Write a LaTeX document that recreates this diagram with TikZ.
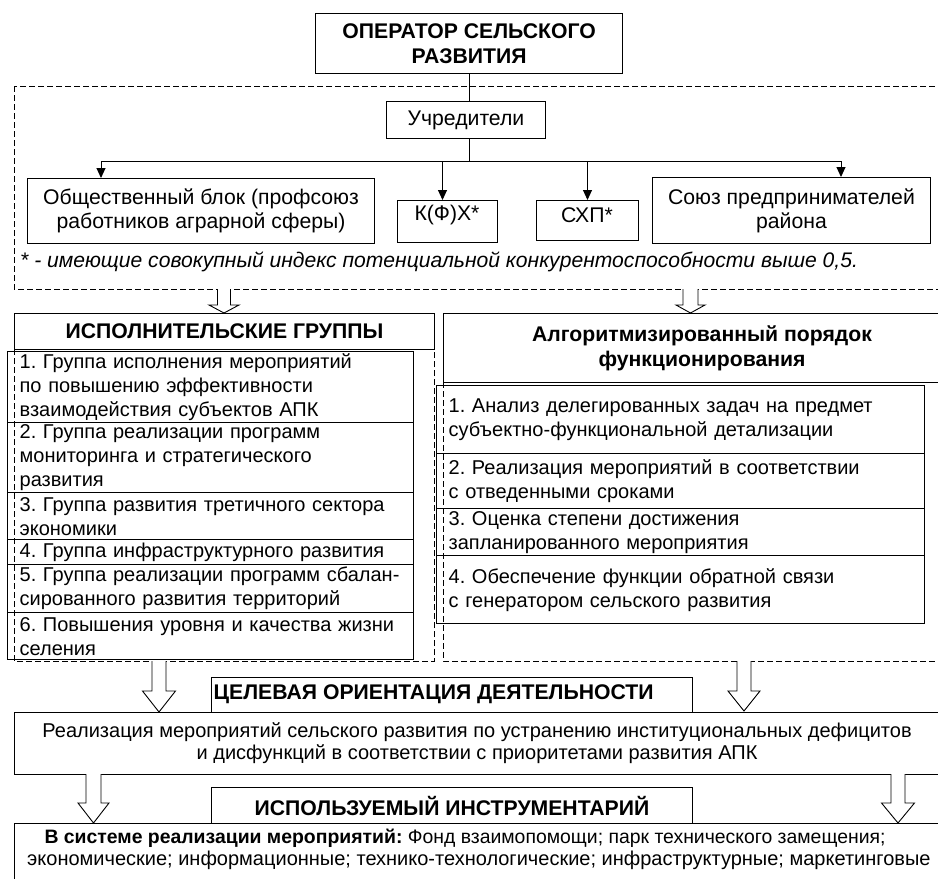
\documentclass[tikz,border=0pt]{standalone}
\usepackage{fontspec}
\setmainfont{Liberation Sans}
\usetikzlibrary{arrows.meta}
\frenchspacing
\tikzset{
  box/.style={draw, line width=1pt, inner sep=0pt, anchor=north west},
  hdr/.style={font=\bfseries\fontsize{21.2}{25}\selectfont, align=center},
  body/.style={font=\fontsize{21.2}{24}\selectfont},
  rowbox/.style={draw, line width=1.3pt, anchor=north west, inner ysep=0pt, inner xsep=12pt, align=left, font=\fontsize{20}{24}\selectfont},
  dashbox/.style={draw, line width=0.8pt, dash pattern=on 6pt off 3pt},
  conn/.style={line width=1pt, -{Triangle[length=10pt,width=9pt]}},
  blockarr/.style={draw, line width=0.9pt, fill=white, line join=miter},
}
\newcommand\blkarrow[6]{%
  \draw[blockarr] (#1-#5,#2) -- (#1-#5,#3) -- (#1-#6,#3) -- (#1,#4) -- (#1+#6,#3) -- (#1+#5,#3) -- (#1+#5,#2);}
\newcommand\rowln[1]{\mbox{#1}}
\begin{document}
\begin{tikzpicture}[x=1pt,y=-1pt]
\path[use as bounding box] (0,0) rectangle (938,879);
\clip (0,0) rectangle (938,879);

% top dashed region
\draw[dashbox] (14,86) rectangle (960,289);
\node[box, line width=1.3pt, minimum width=307pt, minimum height=60pt, hdr] (op) at (315,13) {ОПЕРАТОР СЕЛЬСКОГО\\РАЗВИТИЯ};
\node[box, minimum width=159pt, minimum height=37pt, body] (uch) at (386,101) {Учредители};
\node[box, minimum width=347pt, minimum height=65pt, body, align=center] (ob) at (27,178) {Общественный блок (профсоюз\\работников аграрной сферы)};
\node[box, minimum width=100pt, minimum height=42pt] (kfx) at (397,200) {};
\node[body, inner sep=0pt] (kfxt) at (447,215) {К(Ф)Х*};
\node[box, minimum width=102pt, minimum height=40pt] (sxp) at (536,200) {};
\node[body, inner sep=0pt] (sxpt) at (587,215) {СХП*};
\node[box, minimum width=278pt, minimum height=66pt, body, align=center] (soy) at (652,177) {Союз предпринимателей\\района};

\coordinate (busL) at (101,161);
\coordinate (busR) at (841,161);
\draw[line width=1pt] (op.south) -- (op.south |- uch.north);
\draw[line width=1pt] (op.south |- uch.south) -- (op.south |- busL);
\draw[line width=1pt] (busL) -- (busR);
\draw[conn] (busL) -- (busL |- ob.north);
\draw[conn] ([xshift=-5pt]kfx.north |- busL) -- ([xshift=-5pt]kfx.north);
\draw[conn] (sxp.north |- busL) -- (sxp.north);
\draw[conn] (busR) -- (busR |- soy.north);

\node[anchor=west, inner sep=0pt, font=\itshape\fontsize{21.1}{24}\selectfont] (note) at (20,262) {* - имеющие совокупный индекс потенциальной конкурентоспособности выше 0,5.};

\blkarrow{224}{289}{305}{313}{6.5}{15}
\blkarrow{690.5}{289}{305}{313}{7.5}{14.5}

% left column
\draw[dashbox] (14,349) rectangle (434,661);
\node[box, minimum width=420pt, minimum height=36pt, hdr] (ig) at (14,313) {ИСПОЛНИТЕЛЬСКИЕ ГРУППЫ};
\node[rowbox, text width=382pt, minimum height=71pt] (g1) at (7,351) {\rowln{1. Группа исполнения мероприятий}\\\rowln{по повышению эффективности}\\\rowln{взаимодействия субъектов АПК}};
\node[rowbox, text width=382pt, minimum height=70pt] (g2) at (7,422) {\rowln{2. Группа реализации программ}\\\rowln{мониторинга и стратегического}\\\rowln{развития}};
\node[rowbox, text width=382pt, minimum height=47pt] (g3) at (7,492) {\rowln{3. Группа развития третичного сектора}\\\rowln{экономики}};
\node[rowbox, text width=382pt, minimum height=25pt] (g4) at (7,539) {\rowln{4. Группа инфраструктурного развития}};
\node[rowbox, text width=382pt, minimum height=48pt] (g5) at (7,564) {\rowln{5. Группа реализации программ сбалан-}\\\rowln{сированного развития территорий}};
\node[rowbox, text width=382pt, minimum height=47pt] (g6) at (7,612) {\rowln{6. Повышения уровня и качества жизни}\\\rowln{селения}};

% right column
\draw[dashbox] (443,382) rectangle (960,661);
\node[box, minimum width=517pt, minimum height=69pt, hdr] (alg) at (443,313) {Алгоритмизированный порядок\\функционирования};
\node[rowbox, text width=464pt, minimum height=68pt] (a1) at (436,385) {\rowln{1. Анализ делегированных задач на предмет}\\\rowln{субъектно-функциональной детализации}};
\node[rowbox, text width=464pt, minimum height=55pt] (a2) at (436,453) {\rowln{2. Реализация мероприятий в соответствии}\\\rowln{с отведенными сроками}};
\node[rowbox, text width=464pt, minimum height=47pt] (a3) at (436,508) {\rowln{3. Оценка степени достижения}\\\rowln{запланированного мероприятия}};
\node[rowbox, text width=464pt, minimum height=68pt] (a4) at (436,555) {\rowln{4. Обеспечение функции обратной связи}\\\rowln{с генератором сельского развития}};

% bottom part
\node[box, minimum width=481pt, minimum height=35pt] (tsel) at (211,677) {};
\node[anchor=west, inner sep=0pt, font=\bfseries\fontsize{21.2}{24}\selectfont] (tselt) at (213.5,694.5) {ЦЕЛЕВАЯ ОРИЕНТАЦИЯ ДЕЯТЕЛЬНОСТИ};
\node[box, minimum width=946pt, minimum height=62pt] (real) at (14,712) {};
\node[align=center, inner sep=0pt, font=\fontsize{20}{22}\selectfont] (realt) at (477,743) {Реализация мероприятий сельского развития по устранению институциональных дефицитов\\и дисфункций в соответствии с приоритетами развития АПК};
\blkarrow{159}{661}{691}{712}{7}{16.5}
\blkarrow{744}{661}{691}{711}{7}{16}

\node[box, minimum width=481pt, minimum height=36pt, hdr] (instr) at (211,787) {ИСПОЛЬЗУЕМЫЙ ИНСТРУМЕНТАРИЙ};
\node[box, minimum width=946pt, minimum height=80pt] (tools) at (14,823) {};
\node[inner sep=0pt, font=\fontsize{19.4}{22}\selectfont] (tools1) at (465,838) {\textbf{В системе реализации мероприятий:} Фонд взаимопомощи; парк технического замещения;};
\node[inner sep=0pt, anchor=west, font=\fontsize{20}{22}\selectfont] (tools2) at (27,860) {экономические; информационные; технико-технологические; инфраструктурные; маркетинговые};
\blkarrow{93.5}{774}{803}{823}{7.5}{15.5}
\blkarrow{898}{774}{803}{823}{7}{16.5}
\end{tikzpicture}
\end{document}
